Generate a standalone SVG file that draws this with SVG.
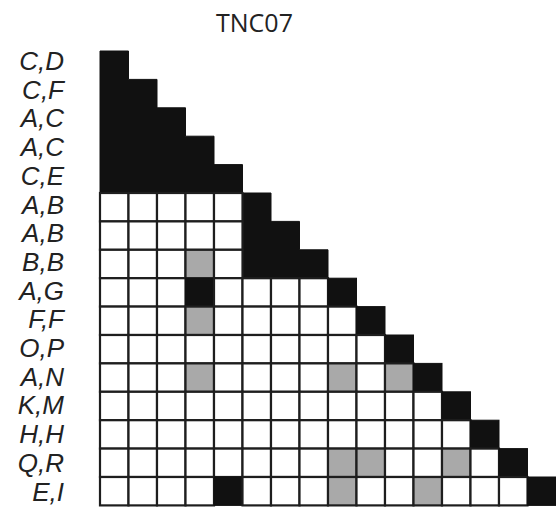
<svg xmlns="http://www.w3.org/2000/svg" xmlns:xlink="http://www.w3.org/1999/xlink" width="556" height="507" viewBox="0 0 556 507">
<style>
.w{fill:#ffffff;stroke:#1e1e1e;stroke-width:2.2}
.g{fill:#a9a9a9;stroke:#1e1e1e;stroke-width:2.2}
.b{fill:#111111;stroke:#111111;stroke-width:1}
.lbl{font-family:"Liberation Sans",Arial,sans-serif;font-style:italic;font-size:26px;fill:#222;text-anchor:end}
.title{font-family:"Open Sans","Noto Sans",sans-serif;font-size:25px;fill:#222;text-anchor:middle}
</style>
<defs>
<rect id="w" class="w" width="28.5" height="28.4"/>
<rect id="g" class="g" width="28.5" height="28.4"/>
<rect id="b" class="b" width="28.5" height="28.4"/>
</defs>
<rect width="556" height="507" fill="#fff"/>
<text id="title" class="title" x="254.5" y="32">TNC07</text>
<g id="labels">
<text class="lbl" x="64" y="70">C,D</text>
<text class="lbl" x="64" y="98.7">C,F</text>
<text class="lbl" x="64" y="127.4">A,C</text>
<text class="lbl" x="64" y="156.1">A,C</text>
<text class="lbl" x="64" y="184.8">C,E</text>
<text class="lbl" x="64" y="213.5">A,B</text>
<text class="lbl" x="64" y="242.2">A,B</text>
<text class="lbl" x="64" y="270.9">B,B</text>
<text class="lbl" x="64" y="299.6">A,G</text>
<text class="lbl" x="64" y="328.3">F,F</text>
<text class="lbl" x="64" y="357">O,P</text>
<text class="lbl" x="64" y="385.7">A,N</text>
<text class="lbl" x="64" y="414.4">K,M</text>
<text class="lbl" x="64" y="443.1">H,H</text>
<text class="lbl" x="64" y="471.8">Q,R</text>
<text class="lbl" x="64" y="500.5">E,I</text>
</g>
<g id="blocks">
<polygon class="b" points="100,51 128.5,51 128.5,79.4 157,79.4 157,107.8 185.5,107.8 185.5,136.2 214,136.2 214,164.6 242.5,164.6 242.5,193 100,193"/>
<polygon class="b" points="242.5,193 271,193 271,221.4 299.5,221.4 299.5,249.8 328,249.8 328,278.2 242.5,278.2"/>
</g>
<g id="row5"><use href="#w" x="100" y="193"/><use href="#w" x="128.5" y="193"/><use href="#w" x="157" y="193"/><use href="#w" x="185.5" y="193"/><use href="#w" x="214" y="193"/></g>
<g id="row6"><use href="#w" x="100" y="221.4"/><use href="#w" x="128.5" y="221.4"/><use href="#w" x="157" y="221.4"/><use href="#w" x="185.5" y="221.4"/><use href="#w" x="214" y="221.4"/></g>
<g id="row7"><use href="#w" x="100" y="249.8"/><use href="#w" x="128.5" y="249.8"/><use href="#w" x="157" y="249.8"/><use href="#g" x="185.5" y="249.8"/><use href="#w" x="214" y="249.8"/></g>
<g id="row8"><use href="#w" x="100" y="278.2"/><use href="#w" x="128.5" y="278.2"/><use href="#w" x="157" y="278.2"/><use href="#b" x="185.5" y="278.2"/><use href="#w" x="214" y="278.2"/><use href="#w" x="242.5" y="278.2"/><use href="#w" x="271" y="278.2"/><use href="#w" x="299.5" y="278.2"/><use href="#b" x="328" y="278.2"/></g>
<g id="row9"><use href="#w" x="100" y="306.6"/><use href="#w" x="128.5" y="306.6"/><use href="#w" x="157" y="306.6"/><use href="#g" x="185.5" y="306.6"/><use href="#w" x="214" y="306.6"/><use href="#w" x="242.5" y="306.6"/><use href="#w" x="271" y="306.6"/><use href="#w" x="299.5" y="306.6"/><use href="#w" x="328" y="306.6"/><use href="#b" x="356.5" y="306.6"/></g>
<g id="row10"><use href="#w" x="100" y="335"/><use href="#w" x="128.5" y="335"/><use href="#w" x="157" y="335"/><use href="#w" x="185.5" y="335"/><use href="#w" x="214" y="335"/><use href="#w" x="242.5" y="335"/><use href="#w" x="271" y="335"/><use href="#w" x="299.5" y="335"/><use href="#w" x="328" y="335"/><use href="#w" x="356.5" y="335"/><use href="#b" x="385" y="335"/></g>
<g id="row11"><use href="#w" x="100" y="363.4"/><use href="#w" x="128.5" y="363.4"/><use href="#w" x="157" y="363.4"/><use href="#g" x="185.5" y="363.4"/><use href="#w" x="214" y="363.4"/><use href="#w" x="242.5" y="363.4"/><use href="#w" x="271" y="363.4"/><use href="#w" x="299.5" y="363.4"/><use href="#g" x="328" y="363.4"/><use href="#w" x="356.5" y="363.4"/><use href="#g" x="385" y="363.4"/><use href="#b" x="413.5" y="363.4"/></g>
<g id="row12"><use href="#w" x="100" y="391.8"/><use href="#w" x="128.5" y="391.8"/><use href="#w" x="157" y="391.8"/><use href="#w" x="185.5" y="391.8"/><use href="#w" x="214" y="391.8"/><use href="#w" x="242.5" y="391.8"/><use href="#w" x="271" y="391.8"/><use href="#w" x="299.5" y="391.8"/><use href="#w" x="328" y="391.8"/><use href="#w" x="356.5" y="391.8"/><use href="#w" x="385" y="391.8"/><use href="#w" x="413.5" y="391.8"/><use href="#b" x="442" y="391.8"/></g>
<g id="row13"><use href="#w" x="100" y="420.2"/><use href="#w" x="128.5" y="420.2"/><use href="#w" x="157" y="420.2"/><use href="#w" x="185.5" y="420.2"/><use href="#w" x="214" y="420.2"/><use href="#w" x="242.5" y="420.2"/><use href="#w" x="271" y="420.2"/><use href="#w" x="299.5" y="420.2"/><use href="#w" x="328" y="420.2"/><use href="#w" x="356.5" y="420.2"/><use href="#w" x="385" y="420.2"/><use href="#w" x="413.5" y="420.2"/><use href="#w" x="442" y="420.2"/><use href="#b" x="470.5" y="420.2"/></g>
<g id="row14"><use href="#w" x="100" y="448.6"/><use href="#w" x="128.5" y="448.6"/><use href="#w" x="157" y="448.6"/><use href="#w" x="185.5" y="448.6"/><use href="#w" x="214" y="448.6"/><use href="#w" x="242.5" y="448.6"/><use href="#w" x="271" y="448.6"/><use href="#w" x="299.5" y="448.6"/><use href="#g" x="328" y="448.6"/><use href="#g" x="356.5" y="448.6"/><use href="#w" x="385" y="448.6"/><use href="#w" x="413.5" y="448.6"/><use href="#g" x="442" y="448.6"/><use href="#w" x="470.5" y="448.6"/><use href="#b" x="499" y="448.6"/></g>
<g id="row15"><use href="#w" x="100" y="477"/><use href="#w" x="128.5" y="477"/><use href="#w" x="157" y="477"/><use href="#w" x="185.5" y="477"/><use href="#b" x="214" y="477"/><use href="#w" x="242.5" y="477"/><use href="#w" x="271" y="477"/><use href="#w" x="299.5" y="477"/><use href="#g" x="328" y="477"/><use href="#w" x="356.5" y="477"/><use href="#w" x="385" y="477"/><use href="#g" x="413.5" y="477"/><use href="#w" x="442" y="477"/><use href="#w" x="470.5" y="477"/><use href="#w" x="499" y="477"/><use href="#b" x="527.5" y="477"/></g>
</svg>
